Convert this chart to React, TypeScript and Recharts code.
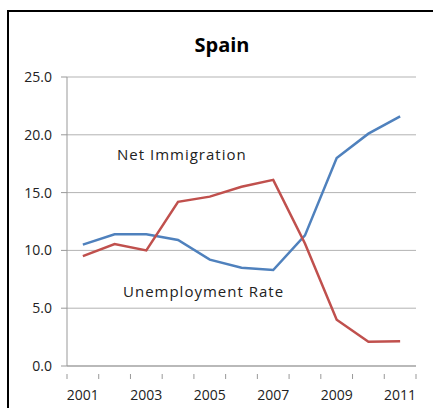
import { LineChart, Line, XAxis, YAxis, CartesianGrid } from "recharts";

const years: string[] = ["2001", "2002", "2003", "2004", "2005", "2006", "2007", "2008", "2009", "2010", "2011"];
const unemploymentRate: number[] = [10.5, 11.4, 11.4, 10.9, 9.2, 8.5, 8.3, 11.3, 18.0, 20.1, 21.6];
const netImmigration: number[] = [9.5, 10.55, 10.0, 14.2, 14.65, 15.5, 16.1, 10.6, 4.0, 2.1, 2.15];
const yTicks: number[] = [0, 5, 10, 15, 20, 25];

const data = years.map((year, i) => ({
  year,
  unemployment: unemploymentRate[i],
  immigration: netImmigration[i],
}));

const W = 433;
const H = 408;
const PLOT_LEFT = 67;
const PLOT_RIGHT = 416;
const BAND = (PLOT_RIGHT - PLOT_LEFT) / years.length;
const FONT = "'Open Sans', sans-serif";

const XTick = (props: any) => {
  const { x, y, payload, index } = props;
  return (
    <g>
      <line x1={x - BAND / 2} x2={x - BAND / 2} y1={y} y2={y + 5} stroke="#999" />
      {index === years.length - 1 && (
        <line x1={x + BAND / 2} x2={x + BAND / 2} y1={y} y2={y + 5} stroke="#999" />
      )}
      {index % 2 === 0 && (
        <text x={x} y={y + 26} textAnchor="middle" fontSize={14} fontFamily={FONT} fill="#222">
          {payload.value}
        </text>
      )}
    </g>
  );
};

const App = () => {
  return (
    <div style={{ position: "absolute", left: 0, top: 0, width: W, height: H, overflow: "hidden", background: "#fff" }}>
      <div
        style={{
          position: "absolute",
          left: 7,
          top: 10,
          width: 440,
          height: 420,
          border: "2px solid #000",
        }}
      />
      <div style={{ position: "absolute", left: 0, top: 0 }}>
        <LineChart width={W} height={H} data={data} margin={{ top: 77, right: W - PLOT_RIGHT, bottom: 0, left: 0 }}>
          <CartesianGrid vertical={false} stroke="#b3b3b3" />
          <XAxis
            dataKey="year"
            scale="band"
            height={42}
            interval={0}
            tickLine={false}
            stroke="#999"
            tick={<XTick />}
          />
          <YAxis
            width={PLOT_LEFT}
            domain={[0, 25]}
            ticks={yTicks}
            tickFormatter={(v: number) => v.toFixed(1)}
            tickSize={6}
            tickMargin={9}
            stroke="#999"
            tick={{ fontSize: 14, fontFamily: FONT, fill: "#222" }}
          />
          <Line dataKey="unemployment" stroke="#4F81BD" strokeWidth={2.5} dot={false} isAnimationActive={false} />
          <Line dataKey="immigration" stroke="#C0504D" strokeWidth={2.5} dot={false} isAnimationActive={false} />
        </LineChart>
      </div>
      <svg width={W} height={H} style={{ position: "absolute", left: 0, top: 0, pointerEvents: "none" }}>
        <text x={222} y={52} textAnchor="middle" fontSize={20} fontWeight="bold" fontFamily={FONT} fill="#000">
          Spain
        </text>
        <text x={117} y={160} fontSize={15} fontFamily={FONT} letterSpacing={1} fill="#222">
          Net Immigration
        </text>
        <text x={123} y={297} fontSize={15} fontFamily={FONT} letterSpacing={1} fill="#222">
          Unemployment Rate
        </text>
      </svg>
    </div>
  );
};

export default App;
